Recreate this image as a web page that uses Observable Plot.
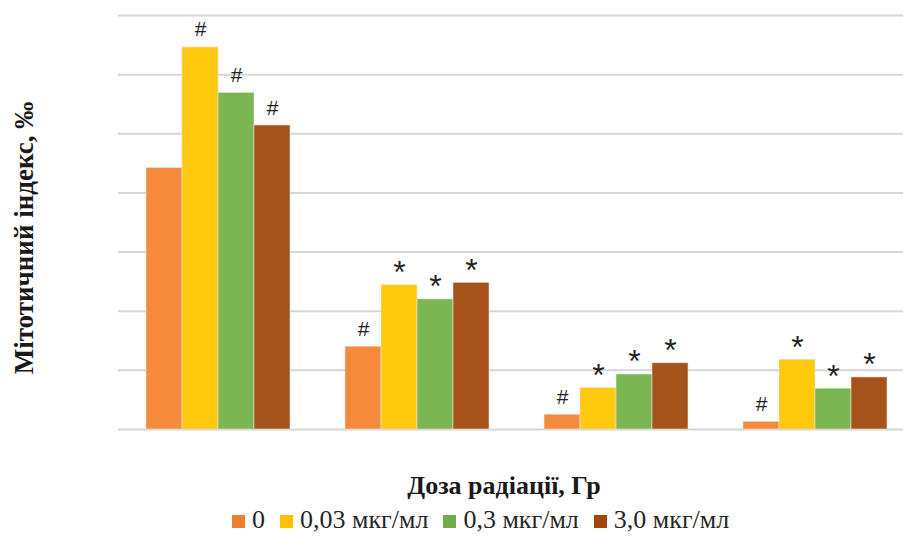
<!DOCTYPE html>
<html><head><meta charset="utf-8">
<script src="https://cdn.jsdelivr.net/npm/d3@7"></script>
<script src="https://cdn.jsdelivr.net/npm/@observablehq/plot@0.6"></script>
<style>
html,body{margin:0;padding:0;background:#fff;}
body{width:903px;height:538px;overflow:hidden;position:relative;font-family:"Liberation Serif","Times New Roman",serif;color:#262626;}
#chart{position:absolute;left:0;top:0;}
#ylabel{position:absolute;left:24px;top:238px;transform:translate(-50%,-50%) rotate(-90deg);white-space:nowrap;font-weight:bold;font-size:27px;line-height:27px;color:#1a1a1a;}
#xlabel{position:absolute;left:504px;top:473px;transform:translateX(-50%);white-space:nowrap;font-weight:bold;font-size:26px;line-height:26px;color:#1a1a1a;}
#legend{position:absolute;left:232px;top:507px;display:flex;align-items:center;font-size:26px;line-height:26px;white-space:nowrap;}
#legend .item{display:flex;align-items:center;margin-right:15px;}
#legend .sw{width:13px;height:13px;margin-right:7px;margin-top:2px;}
</style></head><body>
<div id="chart"></div>
<div id="ylabel">Мітотичний індекс, ‰</div>
<div id="xlabel">Доза радіації, Гр</div>
<div id="legend"></div>
<script>
// Dose groups (no tick labels shown in the original)
const doses = ["Доза 1", "Доза 2", "Доза 3", "Доза 4"];
// Series (legend)
const series = ["0", "0,03 мкг/мл", "0,3 мкг/мл", "3,0 мкг/мл"];
// Values per series, one per dose group (grid step = 1)
const values0   = [4.42, 1.40, 0.25, 0.13];
const values003 = [6.46, 2.44, 0.70, 1.18];
const values03  = [5.69, 2.20, 0.93, 0.69];
const values30  = [5.14, 2.48, 1.12, 0.88];
// Significance marks per series, one per dose group
const marks0   = ["", "#", "#", "#"];
const marks003 = ["#", "*", "*", "*"];
const marks03  = ["#", "*", "*", "*"];
const marks30  = ["#", "*", "*", "*"];
// Gridline values
const gridTicks = [0, 1, 2, 3, 4, 5, 6, 7];
const barColors = ["#F58A3C", "#FFC90C", "#7CB653", "#A6521B"];
const legendColors = ["#ED7D31", "#FFC000", "#70AD47", "#9E480E"];

const allValues = [values0, values003, values03, values30];
const allMarks = [marks0, marks003, marks03, marks30];
const rows = [];
series.forEach((s, i) => doses.forEach((d, j) => rows.push({dose: d, series: s, value: allValues[i][j], mark: allMarks[i][j]})));

const chart = Plot.plot({
  width: 903, height: 450,
  marginLeft: 117, marginRight: -12, marginTop: 15, marginBottom: 21,
  style: {background: "transparent", overflow: "hidden"},
  fx: {domain: doses, padding: 0, axis: null},
  x: {domain: series, paddingInner: 0, paddingOuter: 0.75, axis: null},
  y: {domain: [0, 7], axis: null},
  color: {domain: series, range: barColors},
  marks: [
    Plot.ruleY(gridTicks, {stroke: "#d6d6d6", strokeWidth: 2}),
    Plot.barY(rows, {fx: "dose", x: "series", y: "value", fill: "series", stroke: "#e8e3da", strokeWidth: 0.6}),
    Plot.text(rows, {filter: d => d.mark === "#", fx: "dose", x: "series", y: "value", text: "mark",
      lineAnchor: "bottom", dy: -11, fontSize: 21, fontFamily: "Liberation Sans, Arial, sans-serif", fill: "#222"}),
    Plot.text(rows, {filter: d => d.mark === "*", fx: "dose", x: "series", y: "value", text: "mark",
      lineAnchor: "bottom", dy: -2, fontSize: 32, fontFamily: "Liberation Sans, Arial, sans-serif", fill: "#222"})
  ]
});
document.getElementById("chart").append(chart);

const legend = document.getElementById("legend");
series.forEach((s, i) => {
  const item = document.createElement("div");
  item.className = "item";
  const sw = document.createElement("span");
  sw.className = "sw";
  sw.style.background = legendColors[i];
  const t = document.createElement("span");
  t.textContent = s;
  item.append(sw, t);
  legend.append(item);
});
</script>
</body></html>
